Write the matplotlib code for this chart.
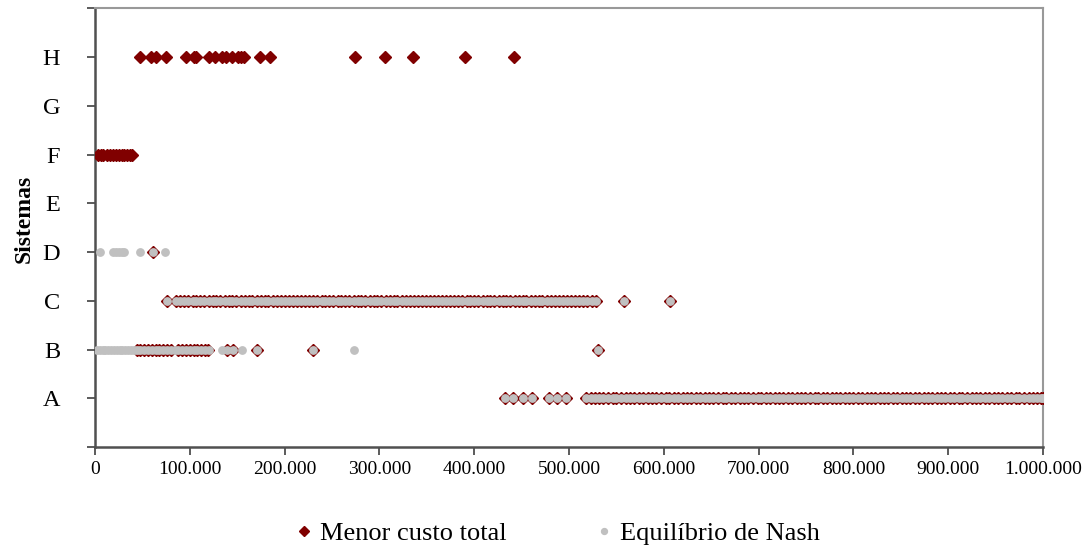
import matplotlib
matplotlib.use("Agg")
import matplotlib.pyplot as plt
from matplotlib.ticker import FuncFormatter
import numpy as np

plt.rcParams['font.family'] = ['Liberation Serif', 'DejaVu Serif']

sistemas = ['A', 'B', 'C', 'D', 'E', 'F', 'G', 'H']

# custo (em milhares) por sistema
menor_custo = {
    'A': [433, 441, 452, 461, 479, 487, 497, 518, 523, 527, 532, 536, 541, 546, 550, 555, 560, 564,
          569, 574, 578, 583, 588, 592, 597, 602, 606, 611, 615, 620, 625, 629, 634, 638, 643, 648,
          652, 657, 662, 666, 671, 675, 680, 685, 689, 694, 699, 703, 708, 712, 717, 722, 726, 731,
          735, 740, 745, 749, 754, 759, 763, 768, 772, 777, 782, 786, 791, 795, 800, 805, 809, 814,
          819, 823, 828, 832, 837, 842, 846, 851, 855, 860, 865, 869, 874, 879, 883, 888, 892, 897,
          902, 906, 911, 915, 920, 925, 929, 934, 939, 943, 948, 952, 957, 962, 966, 971, 975, 980,
          985, 989, 994, 998, 1000],
    'B': [44, 48, 52, 56, 60, 64, 68, 72, 76, 80, 88, 92, 96, 100, 104, 108, 112, 116, 119,
          139, 146, 171, 230, 531],
    'C': [76, 86, 90, 94, 98, 103, 107, 111, 115, 120, 124, 128, 132, 137, 141, 145, 149, 154,
          158, 162, 166, 171, 175, 179, 183, 188, 192, 196, 200, 205, 209, 213, 217, 222, 226, 230,
          234, 239, 243, 247, 251, 256, 260, 264, 268, 273, 277, 281, 285, 290, 294, 298, 302, 307,
          311, 315, 319, 324, 328, 332, 336, 341, 345, 349, 353, 358, 362, 366, 370, 375, 379, 383,
          387, 392, 396, 400, 404, 409, 413, 417, 421, 426, 430, 434, 438, 443, 447, 451, 455, 460,
          464, 468, 472, 477, 481, 485, 489, 494, 498, 502, 506, 511, 515, 519, 524, 528, 558, 607],
    'D': [61],
    'E': [],
    'F': [3, 6, 9, 13, 16, 19, 22, 25, 28, 31, 34, 37, 39],
    'G': [],
    'H': [48, 59, 64, 75, 96, 104, 107, 120, 127, 134, 138, 145, 151, 154, 157, 174, 185,
          274, 306, 335, 390, 442],
}

equilibrio_nash = {
    'A': menor_custo['A'],
    'B': [2, 5, 8, 11, 14, 17, 20, 23, 26, 29, 32, 35, 38, 41, 44, 48, 52, 56, 60, 64, 68, 72,
          76, 80, 84, 88, 92, 96, 100, 104, 108, 112, 116, 120, 134, 139, 146, 155, 171, 230,
          273, 531],
    'C': menor_custo['C'],
    'D': [5, 19, 22, 25, 28, 31, 48, 61, 74],
    'E': [],
    'F': [],
    'G': [],
    'H': [],
}

fig = plt.figure(figsize=(10.84, 5.47), dpi=100)
ax = fig.add_axes([0.0876, 0.1828, 0.8746, 0.8017])

for i, s in enumerate(sistemas):
    x = np.array(menor_custo[s]) * 1000
    ax.plot(x, np.full(len(x), i + 1), linestyle='none', marker='D', ms=6.5,
            color='#800000', mec='#800000', zorder=3,
            label='Menor custo total' if i == 0 else None)
for i, s in enumerate(sistemas):
    x = np.array(equilibrio_nash[s]) * 1000
    ax.plot(x, np.full(len(x), i + 1), linestyle='none', marker='o', ms=5.3,
            color='#c0c0c0', mec='#c0c0c0', zorder=4,
            label='Equilíbrio de Nash' if i == 0 else None)

ax.set_xlim(0, 1000000)
ax.set_ylim(0, 9)
ax.set_xticks(np.arange(0, 1000001, 100000))
ax.xaxis.set_major_formatter(FuncFormatter(lambda v, p: f"{int(v):,}".replace(',', '.')))
ax.set_yticks(range(0, 10))
ax.set_yticklabels([''] + sistemas + [''])
ax.tick_params(axis='x', labelsize=14, length=6, width=1.2, color='#404040', pad=4)
ax.tick_params(axis='y', labelsize=17.5, length=6, width=1.2, color='#404040', pad=19)
ax.set_ylabel('Sistemas', fontsize=17, fontweight='bold')
ax.yaxis.set_label_coords(-0.064, 0.52)

ax.spines['left'].set_color('#505050')
ax.spines['bottom'].set_color('#505050')
ax.spines['left'].set_linewidth(1.8)
ax.spines['bottom'].set_linewidth(1.8)
ax.spines['top'].set_color('#999999')
ax.spines['right'].set_color('#999999')
ax.spines['top'].set_linewidth(1.5)
ax.spines['right'].set_linewidth(1.5)

h, l = ax.get_legend_handles_labels()
leg = fig.legend(h, l, loc='center', bbox_to_anchor=(555 / 1084, 1 - 533 / 547), ncol=2,
                 frameon=False, fontsize=19, handletextpad=0.1, columnspacing=3.2,
                 markerscale=0.8, handlelength=1.0)

fig.savefig('out.png', dpi=100)
